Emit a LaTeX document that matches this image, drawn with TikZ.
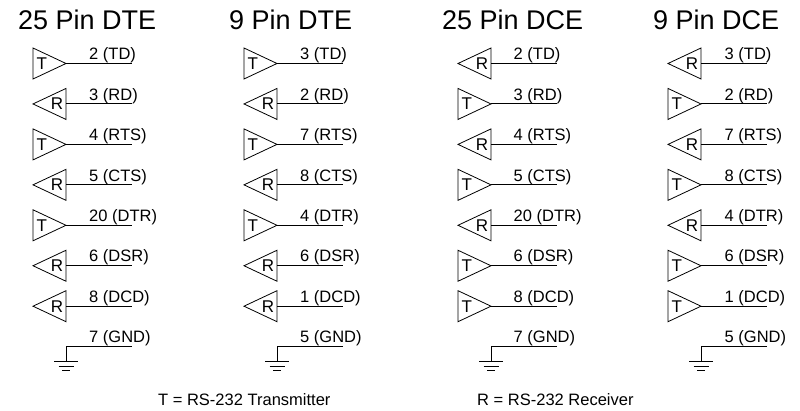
\documentclass[tikz,border=0pt]{standalone}
\usepackage{fontspec}
\setmainfont{Liberation Sans}
\usetikzlibrary{calc}
\tikzset{x=1pt,y=-1pt,
  wire/.style={line width=0.9pt,black},
  tri/.style={line width=0.8pt,black,line join=miter},
  gate/.style={inner sep=0pt,font=\fontsize{17}{17}\selectfont},
  pin/.style={inner sep=0pt,anchor=base west,font=\fontsize{16.5}{18}\selectfont},
  head/.style={inner sep=0pt,anchor=base west,font=\fontsize{27}{29}\selectfont},
  note/.style={inner sep=0pt,anchor=base west,font=\fontsize{16.5}{18}\selectfont}}
% #1 name, #2 x of triangle left, #3 y, #4 label offset
\newcommand{\txgate}[4]{%
  \coordinate (#1a) at (#2,#3-15.5);\coordinate (#1b) at (#2,#3+15.5);\coordinate (#1t) at (#2+33,#3);
  \coordinate (#1e) at (#2+99,#3);
  \draw[tri] (#1a)--(#1t)--(#1b)--cycle;
  \node[gate] (#1g) at (#2+8.7,#3) {T};
  \draw[wire] (#1t)--(#1e);
  \node[pin] (#1l) at (#2+#4,#3-3.8) {\pinlabel};}
\newcommand{\rxgate}[4]{%
  \coordinate (#1a) at (#2+33,#3-15.5);\coordinate (#1b) at (#2+33,#3+15.5);\coordinate (#1t) at (#2,#3);
  \coordinate (#1s) at (#2+33,#3);\coordinate (#1e) at (#2+99,#3);
  \draw[tri] (#1a)--(#1t)--(#1b)--cycle;
  \node[gate] (#1g) at (#2+24,#3) {R};
  \draw[wire] (#1s)--(#1e);
  \node[pin] (#1l) at (#2+#4,#3-3.8) {\pinlabel};}
\newcommand{\gndsym}[4]{%
  \coordinate (#1s) at (#2+33,#3);\coordinate (#1e) at (#2+99,#3);
  \coordinate (#1d) at (#2+33,#3+15);
  \draw[wire] (#1e)--(#1s)--(#1d);
  \draw[tri] ($(#1d)+(-12,0)$)--($(#1d)+(12,0)$);
  \draw[tri] ($(#1d)+(-7.5,4.5)$)--($(#1d)+(7.5,4.5)$);
  \draw[tri] ($(#1d)+(-4,9)$)--($(#1d)+(4,9)$);
  \node[pin] (#1l) at (#2+#4,#3-3.8) {\pinlabel};}
\newcommand{\rowgap}{40.45}
\newcommand{\pinlabel}{}
\newcommand{\col}[4]{%
  \foreach \k/\lab [count=\i] in {#3} {%
    \pgfmathsetmacro{\yy}{63.5+(\i-1)*\rowgap}
    \renewcommand{\pinlabel}{\lab}
    \ifnum\pdfstrcmp{\k}{T}=0 \txgate{#1\i}{#2}{\yy}{#4}\fi
    \ifnum\pdfstrcmp{\k}{R}=0 \rxgate{#1\i}{#2}{\yy}{#4}\fi
    \ifnum\pdfstrcmp{\k}{G}=0 \gndsym{#1\i}{#2}{\yy}{#4}\fi
  }}
\begin{document}
\begin{tikzpicture}
\useasboundingbox (0,0) rectangle (800,411);
\node[head] (h1) at (18,30) {25 Pin DTE};
\node[head] (h2) at (229,30) {9 Pin DTE};
\node[head] (h3) at (442,30) {25 Pin DCE};
\node[head] (h4) at (653,30) {9 Pin DCE};
\col{a}{33}{T/2 (TD),R/3 (RD),T/4 (RTS),R/5 (CTS),T/20 (DTR),R/6 (DSR),R/8 (DCD),G/7 (GND)}{56}
\col{b}{244}{T/3 (TD),R/2 (RD),T/7 (RTS),R/8 (CTS),T/4 (DTR),R/6 (DSR),R/1 (DCD),G/5 (GND)}{56}
\col{c}{458}{R/2 (TD),T/3 (RD),R/4 (RTS),T/5 (CTS),R/20 (DTR),T/6 (DSR),T/8 (DCD),G/7 (GND)}{55.5}
\col{d}{668}{R/3 (TD),T/2 (RD),R/7 (RTS),T/8 (CTS),R/4 (DTR),T/6 (DSR),T/1 (DCD),G/5 (GND)}{56.5}
\node[note] (n1) at (158,405) {T = RS-232 Transmitter};
\node[note] (n2) at (477,405) {R = RS-232 Receiver};
\end{tikzpicture}
\end{document}
